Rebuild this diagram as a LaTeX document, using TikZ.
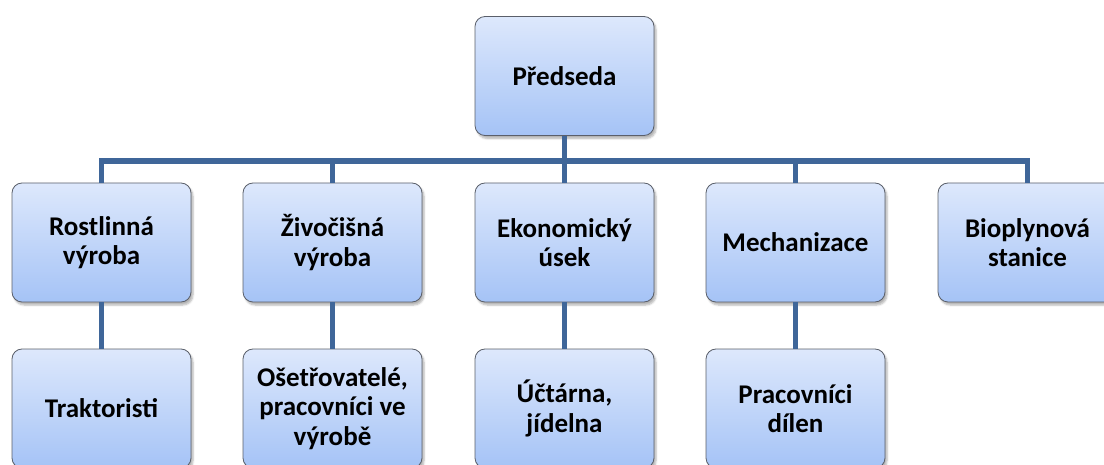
\documentclass[tikz,border=0pt]{standalone}
\usepackage{fontspec}
\setmainfont{Carlito}
\usetikzlibrary{shadows.blur}
\definecolor{boxtop}{HTML}{DDE8FC}
\definecolor{boxbot}{HTML}{A5C3F6}
\definecolor{boxline}{HTML}{5A5F6A}
\definecolor{conn}{HTML}{3F6699}
\begin{document}
\begin{tikzpicture}[x=1pt,y=-1pt,
  orgbox/.style={rectangle, rounded corners=10pt, draw=boxline, line width=0.8pt,
    top color=boxtop, bottom color=boxbot, minimum width=179pt, minimum height=119pt,
    align=center, font=\fontsize{27}{29.5}\selectfont\bfseries,
    blur shadow={shadow xshift=2pt, shadow yshift=-3pt, shadow blur steps=5, shadow opacity=30}},
  link/.style={draw=conn, line width=5.5pt}]
\useasboundingbox (0,0) rectangle (1104,465);
\clip (0,0) rectangle (1104,465);
\node[orgbox] (p) at (564.5,76) {Předseda};
\node[orgbox] (r1) at (101.5,242.5) {Rostlinná\\výroba};
\node[orgbox] (r2) at (332.5,242.5) {Živočišná\\výroba};
\node[orgbox] (r3) at (564.5,242.5) {Ekonomický\\úsek};
\node[orgbox] (r4) at (795.5,242.5) {Mechanizace};
\node[orgbox] (r5) at (1027.5,242.5) {Bioplynová\\stanice};
\node[orgbox] (c1) at (101.5,408.5) {Traktoristi};
\node[orgbox] (c2) at (332.5,408.5) {Ošetřovatelé,\\pracovníci ve\\výrobě};
\node[orgbox] (c3) at (564.5,408.5) {Účtárna,\\jídelna};
\node[orgbox] (c4) at (795.5,408.5) {Pracovníci\\dílen};
\coordinate (bus) at (0,161);
\draw[link] (p.south) -- (p.south |- bus);
\draw[link] (r1.north) -- (r1.north |- bus) -- (r5.north |- bus) -- (r5.north);
\draw[link] (r2.north) -- (r2.north |- bus);
\draw[link] (r3.north) -- (r3.north |- bus);
\draw[link] (r4.north) -- (r4.north |- bus);
\draw[link] (r1.south) -- (c1.north);
\draw[link] (r2.south) -- (c2.north);
\draw[link] (r3.south) -- (c3.north);
\draw[link] (r4.south) -- (c4.north);
\end{tikzpicture}
\end{document}
